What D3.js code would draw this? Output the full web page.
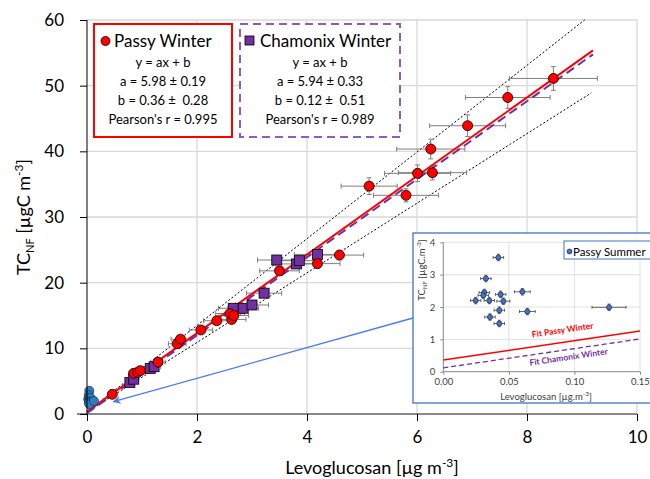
<!DOCTYPE html>
<html>
<head>
<meta charset="utf-8">
<script src="https://cdn.jsdelivr.net/npm/d3@7"></script>
<style>
body { margin: 0; background: #fff; }
svg { display: block; font-family: Lato, "Open Sans", sans-serif; }
text { white-space: pre; }
</style>
</head>
<body>
<svg id="chart" width="650" height="479"></svg>
<script>
// Passy winter: levoglucosan (x), TC_NF (y) and their uncertainties
var passyWinterX = [0.46, 0.85, 0.92, 0.97, 1.29, 1.64, 1.70, 2.07, 2.36, 2.63, 2.60, 2.67, 3.50, 4.19, 4.59, 5.13, 5.80, 6.01, 6.28, 6.25, 6.92, 7.65, 8.48];
var passyWinterY = [3.0, 6.2, 6.35, 6.6, 7.9, 10.7, 11.4, 12.8, 14.2, 14.4, 15.3, 15.0, 21.8, 22.9, 24.2, 34.7, 33.3, 36.65, 36.75, 40.35, 43.9, 48.2, 51.1];
var passyWinterXErr = [0.05, 0.09, 0.09, 0.10, 0.13, 0.16, 0.17, 0.21, 0.24, 0.26, 0.26, 0.27, 0.36, 0.41, 0.44, 0.51, 0.59, 0.60, 0.62, 0.62, 0.69, 0.77, 0.80];
var passyWinterYErr = [0.1, 0.2, 0.2, 0.2, 0.25, 0.33, 0.35, 0.4, 0.43, 0.43, 0.46, 0.45, 0.65, 0.68, 0.72, 1.27, 1.0, 1.27, 1.1, 1.5, 1.65, 1.65, 1.8];

// Chamonix winter
var chamonixWinterX = [0.78, 0.85, 1.15, 1.22, 2.66, 2.84, 3.00, 3.22, 3.45, 3.81, 3.86, 4.19];
var chamonixWinterY = [4.8, 5.3, 6.95, 7.2, 16.1, 16.1, 16.6, 18.4, 23.45, 22.85, 23.35, 24.3];
var chamonixWinterXErr = [0.08, 0.09, 0.12, 0.12, 0.27, 0.28, 0.30, 0.32, 0.35, 0.38, 0.39, 0.42];
var chamonixWinterYErr = [0.15, 0.16, 0.21, 0.22, 0.48, 0.48, 0.5, 0.55, 0.7, 0.68, 0.7, 0.73];

// Passy summer
var passySummerX = [0.0420, 0.0325, 0.0313, 0.0305, 0.0247, 0.0351, 0.0437, 0.0458, 0.0603, 0.0427, 0.0641, 0.0356, 0.0427, 0.1264];
var passySummerY = [3.53, 2.88, 2.45, 2.36, 2.20, 2.20, 2.39, 2.18, 2.47, 1.90, 1.86, 1.69, 1.49, 1.99];
var passySummerXErr = [0.004, 0.004, 0.004, 0.004, 0.004, 0.004, 0.004, 0.005, 0.006, 0.004, 0.006, 0.004, 0.004, 0.013];
var passySummerYErr = [0.1, 0.1, 0.1, 0.1, 0.1, 0.1, 0.1, 0.1, 0.1, 0.1, 0.1, 0.1, 0.1, 0.1];

// fits y = a x + b
var fitSlopes = [5.98, 5.94];
var fitIntercepts = [0.36, 0.12];
var fitEndX = [9.2, 9.2];
// dotted envelope lines
var boundSlopes = [6.6, 5.3];
var boundIntercepts = [0.3, 0.3];
var boundEndX = [9.05, 9.17];

var legendPassy = ["y = ax + b", "a = 5.98 \u00b1 0.19", "b = 0.36 \u00b1  0.28", "Pearson's r = 0.995"];
var legendChamonix = ["y = ax + b", "a = 5.94 \u00b1 0.33", "b = 0.12 \u00b1  0.51", "Pearson's r = 0.989"];

var xTicks = [0, 2, 4, 6, 8, 10];
var yTicks = [0, 10, 20, 30, 40, 50, 60];
var insetXTicks = [0, 0.05, 0.10, 0.15];
var insetYTicks = [0, 1, 2, 3, 4];

var svg = d3.select("#chart");
var red = "#ff0000", purple = "#7030a0", grid = "#d9d9d9", errGray = "#7f7f7f";

var x = d3.scaleLinear().domain([0, 10]).range([87, 637]);
var y = d3.scaleLinear().domain([0, 60]).range([414, 20]);

function zip(xs, ys, xe, ye) {
    return xs.map(function(v, i) { return {x: v, y: ys[i], xe: xe[i], ye: ye[i]}; });
}
var passyWinter = zip(passyWinterX, passyWinterY, passyWinterXErr, passyWinterYErr);
var chamonixWinter = zip(chamonixWinterX, chamonixWinterY, chamonixWinterXErr, chamonixWinterYErr);
var passySummer = zip(passySummerX, passySummerY, passySummerXErr, passySummerYErr);

// gridlines
svg.append("g").selectAll("line").data(xTicks.slice(1)).enter().append("line")
    .attr("x1", function(d) { return x(d); }).attr("x2", function(d) { return x(d); })
    .attr("y1", y(0)).attr("y2", y(60))
    .attr("stroke", grid).attr("stroke-width", 1.3);
svg.append("g").selectAll("line").data(yTicks.slice(1)).enter().append("line")
    .attr("x1", x(0)).attr("x2", x(10))
    .attr("y1", function(d) { return y(d); }).attr("y2", function(d) { return y(d); })
    .attr("stroke", grid).attr("stroke-width", 1.3);

// dotted envelope
boundSlopes.forEach(function(a, i) {
    svg.append("line")
        .attr("x1", x(0)).attr("y1", y(boundIntercepts[i]))
        .attr("x2", x(boundEndX[i])).attr("y2", y(a * boundEndX[i] + boundIntercepts[i]))
        .attr("stroke", "#000").attr("stroke-width", 1).attr("stroke-dasharray", "2,2");
});

// error bars
function errorBars(g, data, sx, sy, cap, color, width) {
    var eg = g.append("g").attr("stroke", color).attr("stroke-width", width);
    data.forEach(function(d) {
        eg.append("line").attr("x1", sx(d.x - d.xe)).attr("x2", sx(d.x + d.xe)).attr("y1", sy(d.y)).attr("y2", sy(d.y));
        eg.append("line").attr("x1", sx(d.x)).attr("x2", sx(d.x)).attr("y1", sy(d.y - d.ye)).attr("y2", sy(d.y + d.ye));
        [d.x - d.xe, d.x + d.xe].forEach(function(v) {
            eg.append("line").attr("x1", sx(v)).attr("x2", sx(v)).attr("y1", sy(d.y) - cap).attr("y2", sy(d.y) + cap);
        });
        [d.y - d.ye, d.y + d.ye].forEach(function(v) {
            eg.append("line").attr("x1", sx(d.x) - cap).attr("x2", sx(d.x) + cap).attr("y1", sy(v)).attr("y2", sy(v));
        });
    });
}
errorBars(svg, passyWinter, x, y, 2.5, errGray, 1);
errorBars(svg, chamonixWinter, x, y, 2.5, errGray, 1);

// fit lines
svg.append("line")
    .attr("x1", x(0)).attr("y1", y(fitIntercepts[0]))
    .attr("x2", x(fitEndX[0])).attr("y2", y(fitSlopes[0] * fitEndX[0] + fitIntercepts[0]))
    .attr("stroke", red).attr("stroke-width", 2);
svg.append("line")
    .attr("x1", x(0)).attr("y1", y(fitIntercepts[1]))
    .attr("x2", x(fitEndX[1])).attr("y2", y(fitSlopes[1] * fitEndX[1] + fitIntercepts[1]))
    .attr("stroke", purple).attr("stroke-width", 2).attr("stroke-dasharray", "9,5");

// points
svg.append("g").selectAll("rect").data(chamonixWinter).enter().append("rect")
    .attr("x", function(d) { return x(d.x) - 5; }).attr("y", function(d) { return y(d.y) - 5; })
    .attr("width", 10).attr("height", 10)
    .attr("fill", purple).attr("stroke", "#000").attr("stroke-width", 0.8);
svg.append("g").selectAll("circle").data(passyWinter).enter().append("circle")
    .attr("cx", function(d) { return x(d.x); }).attr("cy", function(d) { return y(d.y); })
    .attr("r", 5).attr("fill", red).attr("stroke", "#000").attr("stroke-width", 0.8);
svg.append("g").selectAll("circle").data(passySummer).enter().append("circle")
    .attr("cx", function(d) { return x(d.x); }).attr("cy", function(d) { return y(d.y); })
    .attr("r", 4.5).attr("fill", "#2f7bc0").attr("stroke", "#1c3f66").attr("stroke-width", 0.8);

// axes
var xAxis = svg.append("g").attr("transform", "translate(0," + y(0) + ")")
    .call(d3.axisBottom(x).tickValues(xTicks).tickSize(7).tickPadding(10));
xAxis.select(".domain").attr("stroke", "#898989").attr("stroke-width", 2).attr("d", "M" + (x(0) - 10) + ",0H" + x(10));
xAxis.selectAll("text").attr("font-size", 17).attr("fill", "#000").attr("font-family", "Lato");
var yAxis = svg.append("g").attr("transform", "translate(" + x(0) + ",0)")
    .call(d3.axisLeft(y).tickValues(yTicks).tickSize(7).tickPadding(16));
yAxis.select(".domain").attr("d", "M0," + y(0) + "V" + y(60));
yAxis.selectAll("text").attr("font-size", 17).attr("fill", "#000").attr("font-family", "Lato");

// axis titles
var xt = svg.append("text").attr("x", 372).attr("y", 474).attr("text-anchor", "middle").attr("font-size", 18);
xt.append("tspan").text("Levoglucosan [\u00b5g m");
xt.append("tspan").attr("dy", -7).attr("font-size", 12).text("-3");
xt.append("tspan").attr("dy", 7).text("]");

var yt = svg.append("text").attr("transform", "translate(30,217) rotate(-90)").attr("text-anchor", "middle").attr("font-size", 18);
yt.append("tspan").text("TC");
yt.append("tspan").attr("dy", 4).attr("font-size", 11).text("NF");
yt.append("tspan").attr("dy", -4).text(" [\u00b5gC m");
yt.append("tspan").attr("dy", -7).attr("font-size", 12).text("-3");
yt.append("tspan").attr("dy", 7).text("]");

// legend boxes
function legendBox(x0, x1, title, lines, stroke, dash, marker) {
    var g = svg.append("g");
    g.append("rect").attr("x", x0).attr("y", 24).attr("width", x1 - x0).attr("height", 113)
        .attr("fill", "#fff").attr("stroke", stroke).attr("stroke-width", 2)
        .attr("stroke-dasharray", dash);
    marker(g);
    g.append("text").attr("x", x0 + 20).attr("y", 47).attr("font-size", 17).text(title);
    g.selectAll(".ln").data(lines).enter().append("text")
        .attr("x", (x0 + x1) / 2).attr("y", function(d, i) { return 67 + i * 19; })
        .attr("text-anchor", "middle").attr("font-size", 13).text(function(d) { return d; });
}
legendBox(94, 232, "Passy Winter", legendPassy, red, null, function(g) {
    g.append("circle").attr("cx", 105.5).attr("cy", 41).attr("r", 4.5).attr("fill", red).attr("stroke", "#000").attr("stroke-width", 0.8);
});
legendBox(240, 400, "Chamonix Winter", legendChamonix, "#8c5cc4", "8,5", function(g) {
    g.append("rect").attr("x", 245).attr("y", 36).attr("width", 9).attr("height", 9).attr("fill", purple).attr("stroke", "#000").attr("stroke-width", 0.8);
});

// inset
var ix = d3.scaleLinear().domain([0, 0.15]).range([443.3, 640]);
var iy = d3.scaleLinear().domain([0, 4]).range([371.7, 242.3]);
var inset = svg.append("g");
inset.append("rect").attr("x", 413).attr("y", 233).attr("width", 250).attr("height", 170)
    .attr("fill", "#fff").attr("stroke", "#4472c4").attr("stroke-width", 1.3);
inset.append("g").selectAll("line").data(insetYTicks.slice(1)).enter().append("line")
    .attr("x1", ix(0)).attr("x2", ix(0.15))
    .attr("y1", function(d) { return iy(d); }).attr("y2", function(d) { return iy(d); })
    .attr("stroke", grid).attr("stroke-width", 0.8);
inset.append("g").selectAll("line").data(insetXTicks.slice(1)).enter().append("line")
    .attr("x1", function(d) { return ix(d); }).attr("x2", function(d) { return ix(d); })
    .attr("y1", iy(0)).attr("y2", iy(4))
    .attr("stroke", grid).attr("stroke-width", 0.8);

var ixAxis = inset.append("g").attr("transform", "translate(0," + iy(0) + ")")
    .call(d3.axisBottom(ix).tickValues(insetXTicks).tickFormat(d3.format(".2f")).tickSize(3).tickPadding(4));
ixAxis.select(".domain").attr("stroke", "#868686").attr("d", "M" + ix(0) + ",0H" + ix(0.15));
ixAxis.selectAll(".tick line").attr("stroke", "#868686");
ixAxis.selectAll("text").attr("font-size", 9.5).attr("fill", "#404040").attr("font-family", "Lato");
var iyAxis = inset.append("g").attr("transform", "translate(" + ix(0) + ",0)")
    .call(d3.axisLeft(iy).tickValues(insetYTicks).tickFormat(d3.format("d")).tickSize(3).tickPadding(5));
iyAxis.select(".domain").attr("stroke", "#868686").attr("d", "M0," + iy(0) + "V" + iy(4));
iyAxis.selectAll(".tick line").attr("stroke", "#868686");
iyAxis.selectAll("text").attr("font-size", 9.5).attr("fill", "#404040").attr("font-family", "Lato");

var ixt = inset.append("text").attr("x", 546).attr("y", 400).attr("text-anchor", "middle").attr("font-size", 9.5).attr("fill", "#404040");
ixt.append("tspan").text("Levoglucosan [\u00b5g.m");
ixt.append("tspan").attr("dy", -4).attr("font-size", 6.5).text("-3");
ixt.append("tspan").attr("dy", 4).text("]");
var iyt = inset.append("text").attr("transform", "translate(425,270) rotate(-90)").attr("text-anchor", "middle").attr("font-size", 9.5).attr("fill", "#404040");
iyt.append("tspan").text("TC");
iyt.append("tspan").attr("dy", 2).attr("font-size", 6).text("NF");
iyt.append("tspan").attr("dy", -2).text(" [\u00b5gC.m");
iyt.append("tspan").attr("dy", -4).attr("font-size", 6.5).text("-3");
iyt.append("tspan").attr("dy", 4).text("]");

// inset fit lines and labels
inset.append("line").attr("x1", ix(0)).attr("y1", iy(fitIntercepts[0]))
    .attr("x2", ix(0.15)).attr("y2", iy(fitSlopes[0] * 0.15 + fitIntercepts[0]))
    .attr("stroke", red).attr("stroke-width", 1.5);
inset.append("line").attr("x1", ix(0)).attr("y1", iy(fitIntercepts[1]))
    .attr("x2", ix(0.15)).attr("y2", iy(fitSlopes[1] * 0.15 + fitIntercepts[1]))
    .attr("stroke", purple).attr("stroke-width", 1.3).attr("stroke-dasharray", "5,3");
var ang = Math.atan2(iy(fitSlopes[0] * 0.15) - iy(0), ix(0.15) - ix(0)) * 180 / Math.PI;
inset.append("text").attr("transform", "translate(563,333) rotate(" + ang + ")")
    .attr("text-anchor", "middle").attr("font-size", 8.5).attr("font-weight", "bold").attr("fill", red).text("Fit Passy Winter");
inset.append("text").attr("transform", "translate(569,360) rotate(" + ang + ")")
    .attr("text-anchor", "middle").attr("font-size", 8.5).attr("font-weight", "bold").attr("fill", purple).text("Fit Chamonix Winter");

errorBars(inset, passySummer, ix, iy, 1.5, "#404040", 0.8);
inset.append("g").selectAll("circle").data(passySummer).enter().append("circle")
    .attr("cx", function(d) { return ix(d.x); }).attr("cy", function(d) { return iy(d.y); })
    .attr("r", 2.6).attr("fill", "#4472c4").attr("stroke", "#1a2c52").attr("stroke-width", 0.7);

// inset legend
inset.append("rect").attr("x", 564).attr("y", 241).attr("width", 100).attr("height", 18)
    .attr("fill", "#fff").attr("stroke", "#4472c4").attr("stroke-width", 1);
inset.append("circle").attr("cx", 569.5).attr("cy", 251.5).attr("r", 2.5).attr("fill", "#4472c4").attr("stroke", "#1a2c52").attr("stroke-width", 0.7);
inset.append("text").attr("x", 573).attr("y", 256).attr("font-size", 11.5).attr("fill", "#000").text("Passy Summer");

// arrow from the inset to the summer cluster
svg.append("defs").append("marker").attr("id", "arrow")
    .attr("viewBox", "0 0 10 10").attr("refX", 9).attr("refY", 5)
    .attr("markerWidth", 10).attr("markerHeight", 8).attr("orient", "auto").attr("markerUnits", "userSpaceOnUse")
    .append("path").attr("d", "M0,0L10,5L0,10L3,5Z").attr("fill", "#4a7bf0");
svg.append("line").attr("x1", 413).attr("y1", 318)
    .attr("x2", x(0.48)).attr("y2", y(1.87))
    .attr("stroke", "#4a7bf0").attr("stroke-width", 1.3).attr("marker-end", "url(#arrow)");
</script>
</body>
</html>
